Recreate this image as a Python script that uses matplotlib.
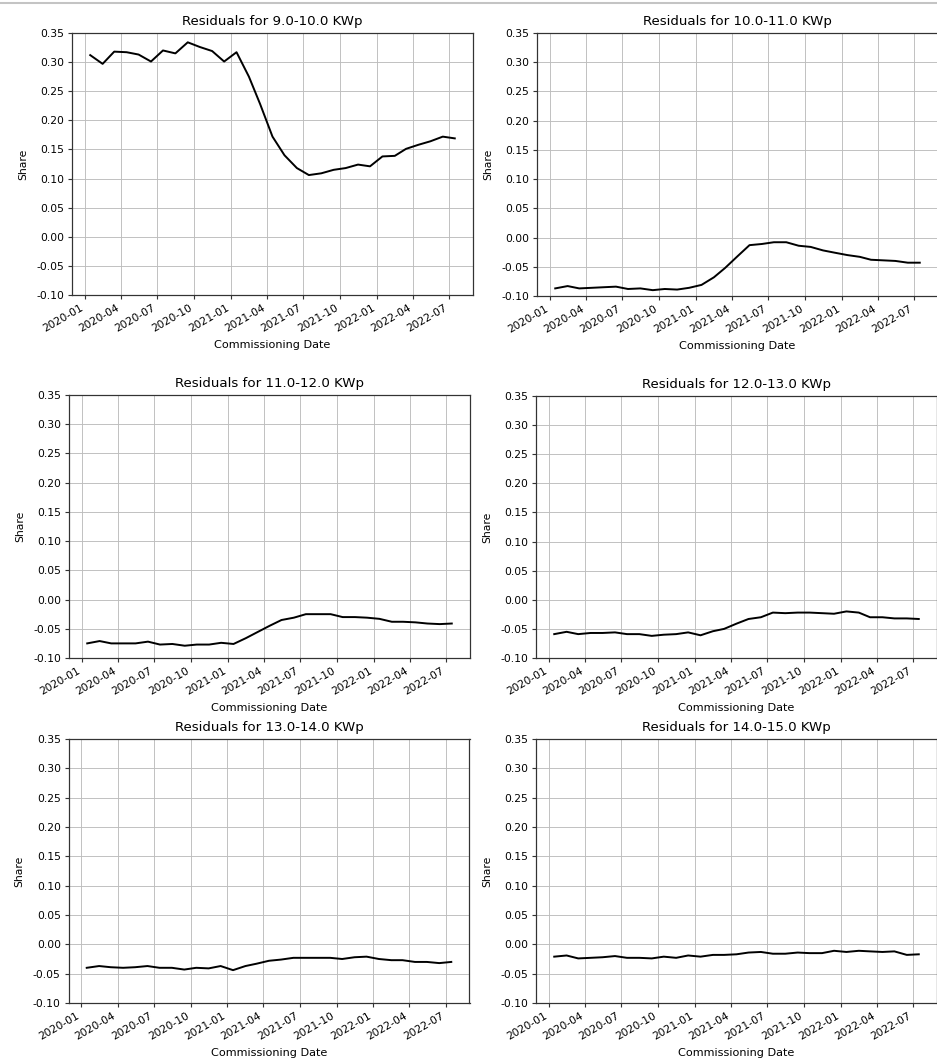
import numpy as np
import pandas as pd
import matplotlib
matplotlib.use("Agg")
import matplotlib.pyplot as plt
import matplotlib.dates as mdates
from matplotlib.lines import Line2D

# Monthly commissioning dates (mid-month)
dates = pd.date_range("2020-01-01", "2022-07-01", freq="MS") + pd.Timedelta(days=14)

size_bins = ["9.0-10.0", "10.0-11.0", "11.0-12.0", "12.0-13.0", "13.0-14.0", "14.0-15.0"]

res_9_10 = [0.312, 0.297, 0.318, 0.317, 0.313, 0.301, 0.320, 0.315, 0.334, 0.326,
            0.319, 0.301, 0.317, 0.275, 0.228, 0.172, 0.140, 0.118, 0.106, 0.109,
            0.115, 0.118, 0.124, 0.121, 0.138, 0.139, 0.151, 0.158, 0.164, 0.172,
            0.169]
res_10_11 = [-0.087, -0.083, -0.087, -0.086, -0.085, -0.084, -0.088, -0.087, -0.090, -0.088,
             -0.089, -0.086, -0.081, -0.068, -0.052, -0.032, -0.013, -0.011, -0.008, -0.008,
             -0.014, -0.016, -0.022, -0.026, -0.030, -0.033, -0.038, -0.039, -0.040, -0.043,
             -0.043]
res_11_12 = [-0.075, -0.071, -0.075, -0.075, -0.075, -0.072, -0.077, -0.076, -0.079, -0.077,
             -0.077, -0.074, -0.076, -0.066, -0.056, -0.045, -0.035, -0.031, -0.025, -0.025,
             -0.025, -0.030, -0.030, -0.031, -0.033, -0.038, -0.038, -0.039, -0.041, -0.042,
             -0.041]
res_12_13 = [-0.059, -0.055, -0.059, -0.057, -0.057, -0.056, -0.059, -0.059, -0.062, -0.060,
             -0.059, -0.056, -0.061, -0.054, -0.050, -0.041, -0.033, -0.030, -0.022, -0.023,
             -0.022, -0.022, -0.023, -0.024, -0.020, -0.022, -0.030, -0.030, -0.032, -0.032,
             -0.033]
res_13_14 = [-0.040, -0.037, -0.039, -0.040, -0.039, -0.037, -0.040, -0.040, -0.043, -0.040,
             -0.041, -0.037, -0.044, -0.037, -0.033, -0.028, -0.026, -0.023, -0.023, -0.023,
             -0.023, -0.025, -0.022, -0.021, -0.025, -0.027, -0.027, -0.030, -0.030, -0.032,
             -0.030]
res_14_15 = [-0.021, -0.019, -0.024, -0.023, -0.022, -0.020, -0.023, -0.023, -0.024, -0.021,
             -0.023, -0.019, -0.021, -0.018, -0.018, -0.017, -0.014, -0.013, -0.016, -0.016,
             -0.014, -0.015, -0.015, -0.011, -0.013, -0.011, -0.012, -0.013, -0.012, -0.018,
             -0.017]

residuals = [res_9_10, res_10_11, res_11_12, res_12_13, res_13_14, res_14_15]

W, H, DPI = 937, 1060, 74
fig = plt.figure(figsize=(W / DPI, H / DPI), dpi=DPI)

# axes boxes in pixels: (left, top, right, bottom)
boxes = [(72, 33, 473, 295), (537, 33, 938, 296),
         (69, 395, 470, 658), (536, 396, 937, 658),
         (68.5, 739, 469.5, 1003), (536, 739, 937, 1003)]

for (l, t, r, b), label, vals in zip(boxes, size_bins, residuals):
    ax = fig.add_axes([l / W, 1 - b / H, (r - l) / W, (b - t) / H])
    ax.plot(dates, vals, color="black", lw=1.9)
    ax.set_ylim(-0.10, 0.35)
    ax.set_yticks(np.arange(-0.10, 0.351, 0.05))
    ax.yaxis.set_major_formatter(plt.FormatStrFormatter("%.2f"))
    ax.xaxis.set_major_locator(mdates.MonthLocator(bymonth=[1, 4, 7, 10]))
    ax.xaxis.set_major_formatter(mdates.DateFormatter("%Y-%m"))
    ax.tick_params(labelsize=10.5, length=4, width=1.1, color="#333333")
    for lbl in ax.get_xticklabels():
        lbl.set_rotation(30)
        lbl.set_ha("right")
    for sp in ax.spines.values():
        sp.set_linewidth(1.2)
        sp.set_color("#333333")
    ax.grid(True, color="#bdbdbd", lw=0.9)
    ax.set_title(f"Residuals for {label} KWp", fontsize=13, pad=8)
    ax.set_xlabel("Commissioning Date", fontsize=11, labelpad=6)
    ax.set_ylabel("Share", fontsize=10.5, labelpad=8)

fig.add_artist(Line2D([0, 1], [1 - 3 / H, 1 - 3 / H], transform=fig.transFigure,
                      color="#c4c4c4", lw=2))

fig.savefig("out.png", dpi=DPI)
